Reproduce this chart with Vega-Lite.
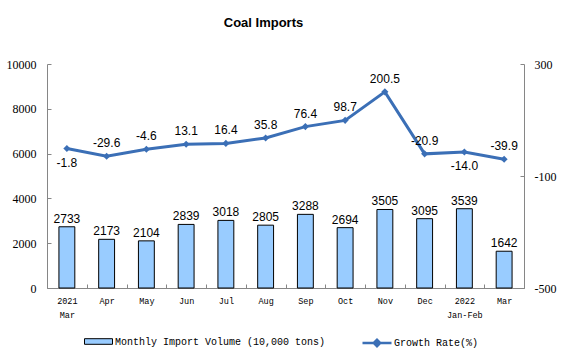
{
  "$schema": "https://vega.github.io/schema/vega-lite/v6.json",
  "width": 477,
  "height": 224,
  "autosize": {"type": "none"},
  "padding": {"left": 47, "top": 64, "right": 37, "bottom": 69},
  "background": "white",
  "config": {
    "view": {"stroke": null},
    "locale": {"number": {"decimal": ".", "thousands": ",", "grouping": [3], "currency": ["$", ""], "minus": "-"}},
    "legend": {"padding": 0}
  },
  "title": {"text": "Coal Imports", "font": "Liberation Sans", "fontSize": 13, "fontWeight": "bold", "color": "#000", "anchor": "middle", "dx": -22, "offset": 28},
  "data": {
    "values": [
      {"month": "2021|Mar", "volume": 2733, "growth": -1.8},
      {"month": "Apr", "volume": 2173, "growth": -29.6},
      {"month": "May", "volume": 2104, "growth": -4.6},
      {"month": "Jun", "volume": 2839, "growth": 13.1},
      {"month": "Jul", "volume": 3018, "growth": 16.4},
      {"month": "Aug", "volume": 2805, "growth": 35.8},
      {"month": "Sep", "volume": 3288, "growth": 76.4},
      {"month": "Oct", "volume": 2694, "growth": 98.7},
      {"month": "Nov", "volume": 3505, "growth": 200.5},
      {"month": "Dec", "volume": 3095, "growth": -20.9},
      {"month": "2022|Jan-Feb", "volume": 3539, "growth": -14.0},
      {"month": "Mar", "volume": 1642, "growth": -39.9}
    ]
  },
  "encoding": {
    "x": {
      "field": "month", "type": "ordinal", "sort": null,
      "scale": {"paddingInner": 0, "paddingOuter": 0},
      "axis": {"title": null, "labelExpr": "datum.value ? split(datum.value,'|') : ''", "labelAngle": 0, "labelFont": "Liberation Mono", "labelFontSize": 8.5, "labelColor": "#000", "tickBand": "extent", "tickSize": -4, "domainColor": "#868686", "tickColor": "#868686", "labelPadding": 12, "labelLineHeight": 14}
    }
  },
  "layer": [
    {
      "mark": {"type": "bar", "stroke": "#000", "strokeWidth": 1, "width": {"band": 0.4}},
      "encoding": {
        "y": {"field": "volume", "type": "quantitative", "scale": {"domain": [0, 10000]},
          "axis": {"orient": "left", "values": [0, 2000, 4000, 6000, 8000, 10000], "format": "d", "title": null, "grid": false, "domainColor": "#868686", "tickColor": "#868686", "tickSize": -4, "labelFont": "Liberation Serif", "labelFontSize": 12, "labelColor": "#000", "labelPadding": 15}},
        "fill": {"datum": "Monthly Import Volume (10,000 tons)", "type": "nominal", "scale": {"range": ["#99CCFF"]},
          "legend": {"orient": "none", "legendX": 37, "legendY": 263, "title": null, "symbolType": "M-1,-0.2H1V0.2H-1Z", "symbolSize": 784, "symbolStrokeColor": "#000", "symbolStrokeWidth": 1, "labelFont": "Liberation Mono", "labelFontSize": 10, "labelColor": "#000", "labelOffset": 2, "labelLimit": 0}}
      }
    },
    {
      "mark": {"type": "text", "font": "Liberation Sans", "fontSize": 12, "baseline": "bottom", "dy": -1, "color": "#000"},
      "encoding": {
        "y": {"field": "volume", "type": "quantitative", "scale": {"domain": [0, 10000]}, "axis": null},
        "text": {"field": "volume", "type": "quantitative", "format": "d"}
      }
    },
    {
      "mark": {"type": "line", "strokeWidth": 3, "point": {"shape": "diamond", "size": 50, "filled": true}},
      "encoding": {
        "y": {"field": "growth", "type": "quantitative", "scale": {"domain": [-500, 300]},
          "axis": {"orient": "right", "values": [-500, -100, 300], "title": null, "grid": false, "domainColor": "#868686", "tickColor": "#868686", "tickSize": -4, "labelFont": "Liberation Serif", "labelFontSize": 12, "labelColor": "#000", "labelPadding": 14}},
        "color": {"datum": "Growth Rate(%)", "type": "nominal", "scale": {"range": ["#3B6FB6"]},
          "legend": {"orient": "none", "legendX": 314, "legendY": 263, "title": null, "symbolType": "M-1,0H1M-0.22,0L0,-0.22L0.22,0L0,0.22Z", "symbolSize": 841, "symbolStrokeWidth": 2.5, "labelFont": "Liberation Mono", "labelFontSize": 10, "labelColor": "#000", "labelOffset": 1, "labelLimit": 0,
            "encode": {"symbols": {"update": {"fill": {"value": "#3B6FB6"}}}}}}
      }
    },
    {
      "transform": [{"filter": "datum.month != '2021|Mar' && datum.month != '2022|Jan-Feb'"}],
      "mark": {"type": "text", "font": "Liberation Sans", "fontSize": 12, "baseline": "middle", "dy": -13, "color": "#000"},
      "encoding": {
        "y": {"field": "growth", "type": "quantitative", "scale": {"domain": [-500, 300]}, "axis": null},
        "text": {"field": "growth", "type": "quantitative", "format": ".1f"}
      }
    },
    {
      "transform": [{"filter": "datum.month == '2021|Mar' || datum.month == '2022|Jan-Feb'"}],
      "mark": {"type": "text", "font": "Liberation Sans", "fontSize": 12, "baseline": "middle", "dy": 14, "color": "#000"},
      "encoding": {
        "y": {"field": "growth", "type": "quantitative", "scale": {"domain": [-500, 300]}, "axis": null},
        "text": {"field": "growth", "type": "quantitative", "format": ".1f"}
      }
    }
  ],
  "resolve": {"scale": {"y": "independent"}}
}
